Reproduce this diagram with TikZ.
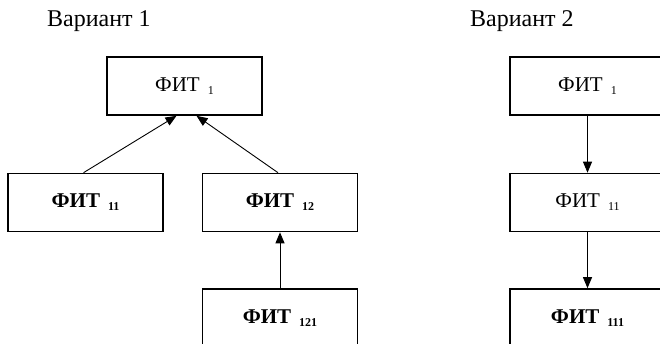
\documentclass[tikz,border=0pt]{standalone}
\usepackage{fontspec}
\setmainfont{Liberation Serif}
\usetikzlibrary{arrows.meta}

% box label: name with a lowered index
\newcommand{\fitlabel}[1]{ФИТ\hspace{8pt}\raisebox{-3pt}{\fontsize{12}{12}\selectfont #1}}

\tikzset{
  fitbox/.style={draw, line width=1.6pt, minimum width=155pt, minimum height=58pt,
    inner sep=0pt, font=\fontsize{21}{21}\selectfont},
  title/.style={anchor=base west, inner sep=0pt, font=\fontsize{24}{24}\selectfont},
  link/.style={line width=0.9pt, -{Triangle[length=11pt, width=9pt]}}
}

\begin{document}
\begin{tikzpicture}[x=1pt, y=-1pt]
\useasboundingbox (0,0) rectangle (660,344);
\clip (0,0) rectangle (660,344);

% variant 1: tree
\node[title] (t1) at (47,27) {Вариант 1};
\node[fitbox] (a1) at (184.5,86) {\fitlabel{1}};
\node[fitbox] (a11) at (85.5,202.5) {\bfseries\fitlabel{11}};
\node[fitbox] (a12) at (280,202.5) {\bfseries\fitlabel{12}};
\node[fitbox] (a121) at (280,318) {\bfseries\fitlabel{121}};

\coordinate (a1l) at ([xshift=-8pt]a1.south);
\coordinate (a1r) at ([xshift=12pt]a1.south);
\coordinate (a11t) at ([xshift=-2pt]a11.north);
\coordinate (a12t) at ([xshift=-2pt]a12.north);

\draw[link] (a11t) -- (a1l);
\draw[link] (a12t) -- (a1r);
\draw[link] (a121) -- (a12);

% variant 2: chain
\node[title] (t2) at (470,27) {Вариант 2};
\node[fitbox] (b1) at (587.5,86) {\fitlabel{1}};
\node[fitbox] (b11) at (587.5,202.5) {\fitlabel{11}};
\node[fitbox] (b111) at (587.5,318) {\bfseries\fitlabel{111}};

\draw[link] (b1) -- (b11);
\draw[link] (b11) -- (b111);
\end{tikzpicture}
\end{document}
